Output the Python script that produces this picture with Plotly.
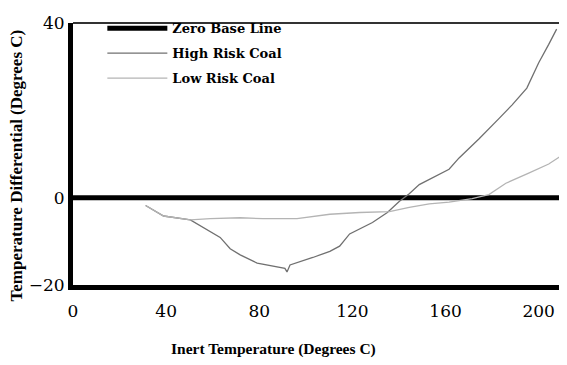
import plotly.graph_objects as go

# ---- data ----
high_x = [31.2, 38.9, 50.4, 63.2, 67.5, 71.8, 79.1, 87.6, 91.0, 91.9, 93.2, 103.0, 110.3, 114.5,
          118.8, 128.6, 135.0, 140.2, 144.4, 148.7, 156.0, 161.5, 165.8, 174.4, 182.9, 188.5,
          194.9, 200.0, 204.3, 207.7]
high_y = [-1.8, -4.2, -5.1, -9.1, -11.7, -13.1, -15.0, -15.8, -16.2, -17.0, -15.4, -13.7, -12.3, -11.1,
          -8.3, -5.7, -3.4, -0.8, 0.9, 3.0, 4.9, 6.5, 9.1, 13.5, 18.1, 21.2,
          25.1, 30.9, 35.1, 38.6]

low_x = [31.2, 38.9, 50.4, 59.0, 71.8, 81.6, 96.2, 103.0, 110.3, 123.1, 135.9, 144.4, 153.0,
         161.5, 171.4, 178.6, 185.9, 195.7, 204.3, 209.4]
low_y = [-1.8, -4.2, -5.1, -4.8, -4.6, -4.8, -4.8, -4.4, -3.8, -3.4, -3.2, -2.2, -1.4,
         -1.0, -0.2, 0.7, 3.3, 5.6, 7.7, 9.5]

zero_x = [0, 210]
zero_y = [0, 0]

x_ticks = [0, 40, 80, 120, 160, 200]
y_ticks = [-20, 0, 40]

SERIF = "Liberation Serif"
WIDE_SERIF = "DejaVu Serif"

fig = go.Figure()
fig.add_trace(go.Scatter(x=zero_x, y=zero_y, mode="lines", name="Zero Base Line",
                         line=dict(color="black", width=5), legendgroup="a"))
fig.add_trace(go.Scatter(x=high_x, y=high_y, mode="lines", name="High Risk Coal",
                         line=dict(color="#707070", width=1.3), legendgroup="b"))
fig.add_trace(go.Scatter(x=low_x, y=low_y, mode="lines", name="Low Risk Coal",
                         line=dict(color="#b4b4b4", width=1.3), legendgroup="c"))

fig.update_layout(
    width=559, height=357,
    margin=dict(l=65, r=5, t=5, b=80),
    paper_bgcolor="white", plot_bgcolor="white",
    font=dict(family=SERIF, color="black", size=14),
    legend=dict(x=0.06, y=1.037, xanchor="left", yanchor="top",
                bgcolor="rgba(0,0,0,0)", itemwidth=60, tracegroupgap=5,
                font=dict(family=WIDE_SERIF, size=13, weight="bold", color="black")),
    xaxis=dict(range=[0, 210], tickvals=x_ticks, showgrid=False, zeroline=False,
               showline=True, linewidth=5, linecolor="black", ticks="",
               ticklabelstandoff=7, ticklabeloverflow="allow",
               tickfont=dict(size=17, family=WIDE_SERIF)),
    yaxis=dict(range=[-20, 40], tickvals=y_ticks, showgrid=False, zeroline=False,
               showline=True, linewidth=5, linecolor="black", ticks="",
               ticklabelstandoff=0, ticklabeloverflow="allow",
               tickfont=dict(size=17, family=WIDE_SERIF)),
    shapes=[
        dict(type="line", xref="paper", yref="paper", x0=0, x1=1, y0=1, y1=1,
             line=dict(color="#333333", width=2)),
        dict(type="line", xref="paper", yref="paper", x0=1, x1=1, y0=0, y1=1,
             line=dict(color="#333333", width=2)),
    ],
    annotations=[
        dict(text="Inert Temperature (Degrees C)", xref="paper", yref="paper",
             x=0.411, y=-0.246, xanchor="center", yanchor="middle",
             showarrow=False, font=dict(family=SERIF, size=15.5, weight="bold")),
        dict(text="Temperature Differential (Degrees C)", xref="paper", yref="paper",
             x=-0.1145, y=0.456, xanchor="center", yanchor="middle",
             textangle=-90, showarrow=False, font=dict(family=SERIF, size=17, weight="bold")),
    ],
)

fig.write_html("out.html")
